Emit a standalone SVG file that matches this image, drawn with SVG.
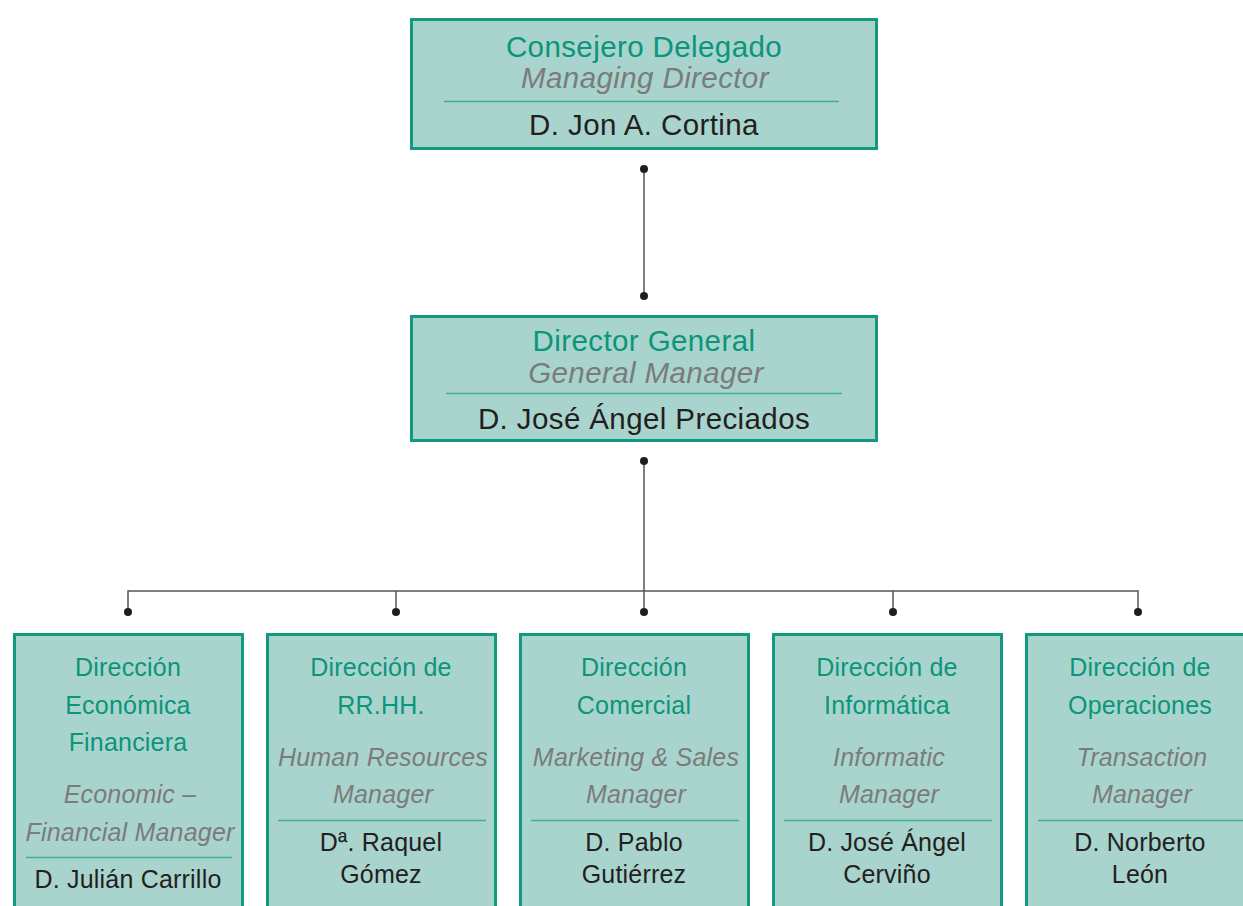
<svg xmlns="http://www.w3.org/2000/svg" width="1243" height="906" viewBox="0 0 1243 906">
<style>
.box{fill:#a8d4cd;stroke:#12997f;stroke-width:3}
.div{stroke:#3fae9c;stroke-width:1.5}
text{font-family:"Liberation Sans",Arial,sans-serif;text-anchor:middle}
.t{fill:#0b957a}
.e{fill:#7b7b7b;font-style:italic}
.n{fill:#231f20}
.big{font-size:29.5px;letter-spacing:0.4px}
.sm{font-size:25px;letter-spacing:0.2px}
.ln{stroke:#555;stroke-width:1.5;fill:none}
.dot{fill:#1e1e1e}
</style>
<rect width="1243" height="906" fill="#ffffff"/>
<g id="connectors">
<line class="ln" x1="644" y1="169" x2="644" y2="296"/>
<line class="ln" x1="644" y1="461" x2="644" y2="612"/>
<polyline class="ln" points="128,612 128,591 1138,591 1138,612"/>
<line class="ln" x1="396" y1="591" x2="396" y2="612"/>
<line class="ln" x1="893" y1="591" x2="893" y2="612"/>
<circle class="dot" cx="644" cy="169" r="4"/>
<circle class="dot" cx="644" cy="296" r="4"/>
<circle class="dot" cx="644" cy="461" r="4"/>
<circle class="dot" cx="128" cy="612" r="4"/>
<circle class="dot" cx="396" cy="612" r="4"/>
<circle class="dot" cx="644" cy="612" r="4"/>
<circle class="dot" cx="893" cy="612" r="4"/>
<circle class="dot" cx="1138" cy="612" r="4"/>
</g>
<g id="consejero">
<rect class="box" x="411.5" y="19.5" width="465" height="129"/>
<text class="t big" x="644" y="57">Consejero Delegado</text>
<text class="e big" x="645" y="88">Managing Director</text>
<line class="div" x1="444" y1="101.5" x2="839" y2="101.5"/>
<text class="n big" x="644" y="135">D. Jon A. Cortina</text>
</g>
<g id="director-general">
<rect class="box" x="411.5" y="316.5" width="465" height="124"/>
<text class="t big" x="644" y="351">Director General</text>
<text class="e big" x="646" y="383">General Manager</text>
<line class="div" x1="446" y1="393.5" x2="842" y2="393.5"/>
<text class="n big" x="644" y="429">D. José Ángel Preciados</text>
</g>
<g id="economica">
<rect class="box" x="14.5" y="634.5" width="228" height="280"/>
<text class="t sm" x="128" y="676">Dirección</text>
<text class="t sm" x="128" y="714">Económica</text>
<text class="t sm" x="128" y="751">Financiera</text>
<text class="e sm" x="130" y="803">Economic –</text>
<text class="e sm" x="130" y="841">Financial Manager</text>
<line class="div" x1="26" y1="857.5" x2="232" y2="857.5"/>
<text class="n sm" x="128" y="888">D. Julián Carrillo</text>
</g>
<g id="rrhh">
<rect class="box" x="267.5" y="634.5" width="228" height="280"/>
<text class="t sm" x="381" y="676">Dirección de</text>
<text class="t sm" x="381" y="714">RR.HH.</text>
<text class="e sm" x="383" y="766">Human Resources</text>
<text class="e sm" x="383" y="803">Manager</text>
<line class="div" x1="278" y1="820.5" x2="486" y2="820.5"/>
<text class="n sm" x="381" y="851">Dª. Raquel</text>
<text class="n sm" x="381" y="883">Gómez</text>
</g>
<g id="comercial">
<rect class="box" x="520.5" y="634.5" width="228" height="280"/>
<text class="t sm" x="634" y="676">Dirección</text>
<text class="t sm" x="634" y="714">Comercial</text>
<text class="e sm" x="636" y="766">Marketing &amp; Sales</text>
<text class="e sm" x="636" y="803">Manager</text>
<line class="div" x1="531" y1="820.5" x2="739" y2="820.5"/>
<text class="n sm" x="634" y="851">D. Pablo</text>
<text class="n sm" x="634" y="883">Gutiérrez</text>
</g>
<g id="informatica">
<rect class="box" x="773.5" y="634.5" width="228" height="280"/>
<text class="t sm" x="887" y="676">Dirección de</text>
<text class="t sm" x="887" y="714">Informática</text>
<text class="e sm" x="889" y="766">Informatic</text>
<text class="e sm" x="889" y="803">Manager</text>
<line class="div" x1="784" y1="820.5" x2="992" y2="820.5"/>
<text class="n sm" x="887" y="851">D. José Ángel</text>
<text class="n sm" x="887" y="883">Cerviño</text>
</g>
<g id="operaciones">
<rect class="box" x="1026.5" y="634.5" width="228" height="280"/>
<text class="t sm" x="1140" y="676">Dirección de</text>
<text class="t sm" x="1140" y="714">Operaciones</text>
<text class="e sm" x="1142" y="766">Transaction</text>
<text class="e sm" x="1142" y="803">Manager</text>
<line class="div" x1="1038" y1="820.5" x2="1250" y2="820.5"/>
<text class="n sm" x="1140" y="851">D. Norberto</text>
<text class="n sm" x="1140" y="883">León</text>
</g>
</svg>
